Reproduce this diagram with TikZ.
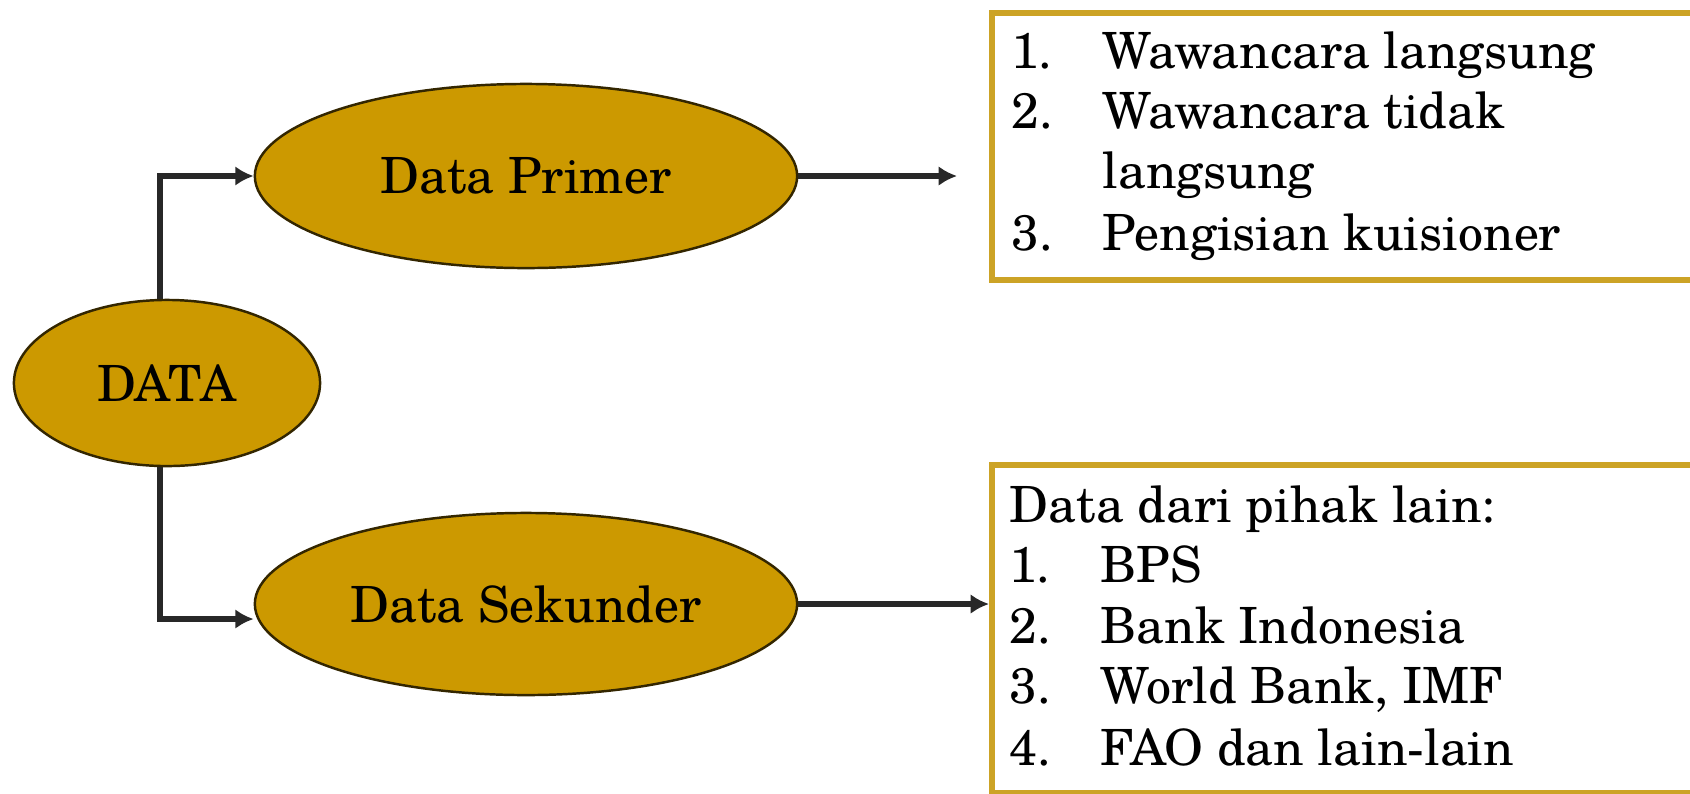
\documentclass[tikz,border=0pt]{standalone}
\usepackage{fontspec}
\setmainfont{texgyreschola-regular.otf}
\usetikzlibrary{shapes.geometric,arrows.meta}
\definecolor{ellfill}{RGB}{204,153,0}
\definecolor{boxgold}{RGB}{204,163,38}
\definecolor{conn}{RGB}{40,40,40}
\begin{document}
\begin{tikzpicture}[x=0.01cm,y=-0.01cm,
  oval/.style={ellipse,fill=ellfill,draw=black!75!ellfill,line width=0.7pt,inner sep=0pt,
    font=\fontsize{14.2}{17}\selectfont},
  listbox/.style={rectangle,draw=boxgold,line width=1.7pt,fill=white,inner sep=0pt,anchor=north west},
  itemtxt/.style={anchor=base west,inner sep=0pt,font=\fontsize{14.2}{17}\selectfont},
  arr/.style={draw=conn,line width=1.45pt,-{Latex[length=5.2pt,width=5.6pt]}}]
\clip (0,0) rectangle (1690,793);
\fill[white] (0,0) rectangle (1690,793);
% ellipses
\node[oval,minimum width=3.06cm,minimum height=1.66cm] (data) at (167,383) {DATA};
\node[oval,minimum width=5.42cm,minimum height=1.84cm] (primer) at (526,176) {Data Primer};
\node[oval,minimum width=5.42cm,minimum height=1.82cm] (sekunder) at (526,604) {Data Sekunder};
% boxes
\node[listbox,minimum width=7.8cm,minimum height=2.67cm] (boxA) at (989,10) {};
\node[listbox,minimum width=7.8cm,minimum height=3.28cm] (boxB) at (989,462) {};
% box texts
\node[itemtxt] (a1) at (1011,68) {\makebox[0.91cm][l]{1.}Wawancara langsung};
\node[itemtxt] (a2) at (1011,128) {\makebox[0.91cm][l]{2.}Wawancara tidak};
\node[itemtxt] (a2b) at (1102,188) {langsung};
\node[itemtxt] (a3) at (1011,250) {\makebox[0.91cm][l]{3.}Pengisian kuisioner};
\node[itemtxt] (b0) at (1009,522) {Data dari pihak lain:};
\node[itemtxt] (b1) at (1009,582) {\makebox[0.91cm][l]{1.}BPS};
\node[itemtxt] (b2) at (1009,643) {\makebox[0.91cm][l]{2.}Bank Indonesia};
\node[itemtxt] (b3) at (1009,703) {\makebox[0.91cm][l]{3.}World Bank, IMF};
\node[itemtxt] (b4) at (1009,765) {\makebox[0.91cm][l]{4.}FAO dan lain-lain};
% connectors
\coordinate (tipA) at (957,176);
\draw[arr] ([xshift=-0.07cm]data.north) |- (primer.west);
\draw[arr] ([xshift=-0.07cm]data.south) |- ([yshift=-0.15cm]sekunder.west);
\draw[arr] (primer.east) -- (tipA);
\draw[arr] (sekunder.east) -- (sekunder.east -| boxB.west);
\end{tikzpicture}
\end{document}
